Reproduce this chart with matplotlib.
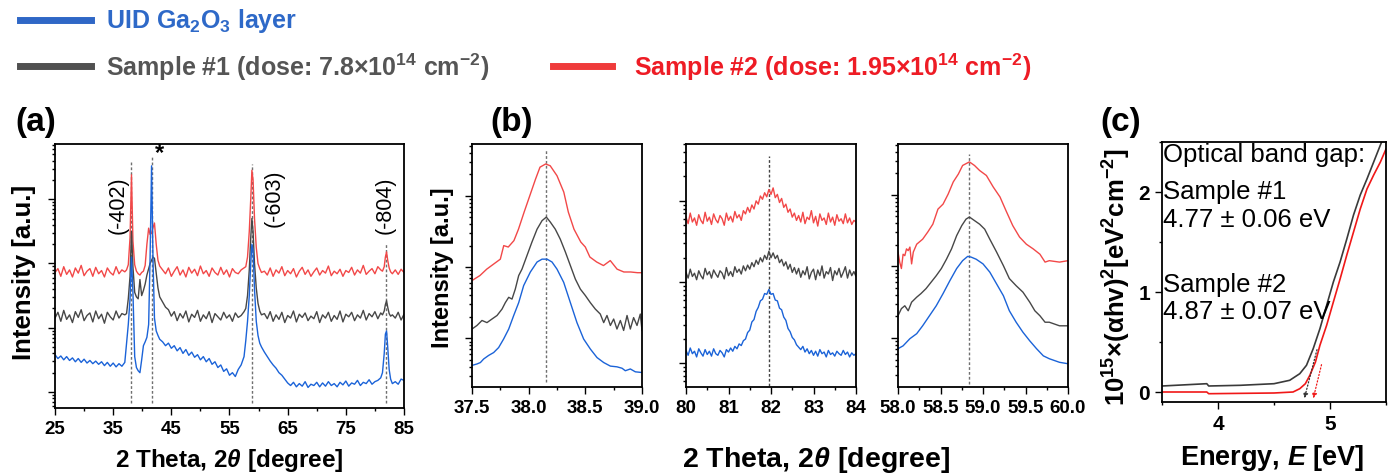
import numpy as np
import matplotlib.pyplot as plt
from matplotlib.ticker import LogLocator, NullFormatter, MultipleLocator
from matplotlib.lines import Line2D

plt.rcParams.update({
    'font.family': ['Liberation Sans', 'DejaVu Sans'],
    'mathtext.fontset': 'custom',
    'mathtext.rm': 'Liberation Sans',
    'mathtext.bf': 'Liberation Sans:bold',
    'mathtext.it': 'Liberation Sans:italic',
    'mathtext.bfit': 'Liberation Sans:italic:bold',
    'mathtext.default': 'bf',
})

RED, GRAY, BLUE = '#f24848', '#474747', '#1b63d8'
DOT = '#707070'

# ---------------- (a) wide scan, log10 intensity ----------------
tt_a = np.concatenate([
    np.arange(25, 37.01, 0.5),
    [37.3, 37.6, 37.9, 38.15, 38.4, 38.7, 39.0, 39.3, 39.6, 39.9, 40.2,
     40.5, 40.8, 41.1, 41.35, 41.6, 41.85, 42.1, 42.4, 42.7, 43.0],
    np.arange(43.5, 57.51, 0.5),
    [57.8, 58.1, 58.4, 58.65, 58.85, 59.05, 59.3, 59.6, 59.9, 60.2, 60.5],
    np.arange(61, 81.01, 0.5),
    [81.3, 81.6, 81.8, 82.0, 82.2, 82.45, 82.7, 83.0],
    [83.5, 84.0, 84.5, 85.0],
])

red_a = [
    2.86, 2.92, 2.80, 2.95, 2.83, 2.90, 2.79, 2.93, 2.85, 2.97, 2.81, 2.88, 2.92,
    2.80, 2.94, 2.84, 2.89, 2.79, 2.93, 2.86, 2.82, 2.95, 2.84, 2.90, 2.87,
    2.90, 2.98, 3.40, 4.38, 3.35, 2.98, 2.88, 2.84, 2.82, 2.86, 2.88, 2.97, 3.30,
    3.55, 3.45, 3.47, 3.56, 3.63, 3.30, 3.05, 2.96,
    2.90, 2.84, 2.93, 2.80, 2.88, 2.95, 2.82, 2.90, 2.79, 2.94, 2.85, 2.91, 2.81,
    2.96, 2.84, 2.89, 2.80, 2.93, 2.86, 2.82, 2.94, 2.83, 2.90, 2.79, 2.92, 2.86,
    2.84, 2.90, 2.93,
    2.95, 3.10, 3.50, 4.00, 4.45, 4.30, 3.70, 3.25, 3.00, 2.92, 2.86,
    2.88, 2.82, 2.93, 2.80, 2.90, 2.85, 2.95, 2.81, 2.89, 2.84,
    2.92, 2.79, 2.88, 2.94, 2.83, 2.90, 2.80, 2.87, 2.93, 2.82,
    2.89, 2.85, 2.96, 2.81, 2.88, 2.84, 2.91, 2.80, 2.89, 2.86,
    2.94, 2.82, 2.90, 2.85, 2.97, 2.83, 2.88, 2.92, 2.84, 2.95, 2.90,
    2.88, 2.95, 3.10, 3.18, 3.05, 2.93, 2.87, 2.84,
    2.90, 2.83, 2.91, 2.86,
]
gray_a = [
    2.15, 2.24, 2.10, 2.27, 2.13, 2.20, 2.08, 2.25, 2.16, 2.28, 2.11, 2.19, 2.23,
    2.09, 2.26, 2.14, 2.21, 2.07, 2.24, 2.17, 2.12, 2.26, 2.15, 2.22, 2.20,
    2.22, 2.45, 2.80, 3.50, 2.95, 2.55, 2.48, 2.45, 2.75, 2.50, 2.58, 2.68, 2.82,
    2.92, 3.00, 3.05, 3.10, 3.08, 2.85, 2.62, 2.48,
    2.40, 2.32, 2.28, 2.18, 2.25, 2.11, 2.22, 2.15, 2.26, 2.09, 2.21, 2.16, 2.27,
    2.10, 2.20, 2.14, 2.25, 2.08, 2.22, 2.17, 2.12, 2.24, 2.15, 2.20, 2.10, 2.23,
    2.16, 2.19, 2.25,
    2.30, 2.50, 2.90, 3.40, 3.70, 3.50, 3.00, 2.62, 2.38, 2.26, 2.20,
    2.22, 2.14, 2.25, 2.10, 2.20, 2.13, 2.24, 2.08, 2.19, 2.15,
    2.26, 2.09, 2.21, 2.16, 2.23, 2.11, 2.18, 2.14, 2.25, 2.08,
    2.20, 2.15, 2.24, 2.10, 2.19, 2.13, 2.26, 2.09, 2.21, 2.17,
    2.24, 2.11, 2.20, 2.15, 2.27, 2.12, 2.22, 2.17, 2.25, 2.14, 2.23,
    2.20, 2.26, 2.36, 2.42, 2.32, 2.22, 2.18, 2.20,
    2.15, 2.24, 2.12, 2.21,
]
blue_a = [
    1.58, 1.52, 1.56, 1.50, 1.55, 1.49, 1.53, 1.47, 1.52, 1.46, 1.51, 1.45, 1.49,
    1.44, 1.48, 1.43, 1.47, 1.41, 1.46, 1.40, 1.45, 1.39, 1.44, 1.40, 1.46,
    1.75, 2.05, 2.45, 3.10, 2.55, 1.55, 1.38, 1.33, 1.30, 1.50, 1.72, 1.78, 1.85,
    2.05, 3.10, 4.52, 3.05, 2.15, 1.95, 1.88, 1.82,
    1.78, 1.72, 1.76, 1.68, 1.72, 1.64, 1.69, 1.60, 1.66, 1.57, 1.62, 1.54, 1.58,
    1.50, 1.55, 1.47, 1.52, 1.43, 1.47, 1.38, 1.42, 1.32, 1.36, 1.26, 1.30, 1.24,
    1.35, 1.42, 1.55,
    1.80, 2.10, 2.50, 3.00, 3.30, 3.20, 2.60, 2.10, 1.88, 1.76, 1.70,
    1.62, 1.55, 1.48, 1.42, 1.37, 1.30, 1.26, 1.20, 1.14, 1.10,
    1.15, 1.08, 1.13, 1.09, 1.16, 1.07, 1.12, 1.10, 1.15, 1.08,
    1.14, 1.09, 1.16, 1.10, 1.13, 1.08, 1.15, 1.11, 1.17, 1.09,
    1.14, 1.12, 1.18, 1.10, 1.15, 1.13, 1.19, 1.12, 1.16, 1.18, 1.22,
    1.30, 1.60, 1.90, 1.95, 1.70, 1.35, 1.20, 1.13,
    1.16, 1.12, 1.20, 1.18,
]
peaks_a = [38.15, 41.6, 58.85, 81.95]
peak_tops_a = [4.59, 4.67, 4.55, 3.30]
peak_names = ['(-402)', '(-603)', '(-804)']
peak_label_pos = [(35.9, 3.92), (62.7, 4.03), (81.7, 3.92)]

# ---------------- (b) zoomed peaks ----------------
b1_red_x = [37.50, 37.57, 37.63, 37.69, 37.75, 37.78, 37.82, 37.87, 37.91, 37.96,
            38.01, 38.06, 38.10, 38.15, 38.19, 38.25, 38.31, 38.35, 38.40, 38.46,
            38.50, 38.54, 38.60, 38.66, 38.72, 38.78, 38.84, 38.90, 38.96, 39.00]
b1_red = [2.81, 2.88, 2.97, 3.04, 3.11, 3.30, 3.28, 3.37, 3.53, 3.77,
          4.00, 4.23, 4.40, 4.445, 4.42, 4.28, 4.05, 3.77, 3.53, 3.35,
          3.28, 3.14, 3.07, 3.02, 3.09, 2.97, 2.93, 2.93, 2.92, 2.92]
b1_gray_x = [37.500, 37.544, 37.588, 37.632, 37.676, 37.721, 37.765, 37.794, 37.824, 37.853,
             37.882, 37.912, 37.941, 37.985, 38.029, 38.074, 38.118, 38.156, 38.191, 38.235,
             38.279, 38.324, 38.368, 38.412, 38.456, 38.500, 38.544, 38.588, 38.632, 38.662,
             38.691, 38.721, 38.750, 38.779, 38.809, 38.838, 38.868, 38.897, 38.926, 38.956,
             38.985, 39.000]
b1_gray = [2.13, 2.18, 2.25, 2.22, 2.27, 2.32, 2.41, 2.50, 2.575, 2.55,
           2.69, 2.88, 2.97, 3.16, 3.35, 3.53, 3.65, 3.70, 3.63, 3.53,
           3.39, 3.21, 3.02, 2.83, 2.69, 2.60, 2.50, 2.41, 2.34, 2.22,
           2.32, 2.18, 2.27, 2.13, 2.25, 2.11, 2.32, 2.13, 2.29, 2.18,
           2.34, 2.11]
b1_blue_x = [37.500, 37.544, 37.574, 37.603, 37.647, 37.691, 37.735, 37.779, 37.824, 37.868,
             37.912, 37.956, 38.015, 38.074, 38.118, 38.162, 38.206, 38.250, 38.309, 38.368,
             38.426, 38.485, 38.544, 38.603, 38.662, 38.721, 38.779, 38.824, 38.853, 38.897,
             38.941, 39.000]
b1_blue = [1.62, 1.64, 1.66, 1.71, 1.76, 1.80, 1.87, 1.99, 2.13, 2.32,
           2.50, 2.74, 2.93, 3.07, 3.11, 3.11, 3.07, 2.97, 2.785, 2.50,
           2.22, 1.99, 1.85, 1.73, 1.66, 1.61, 1.60, 1.58, 1.545, 1.57,
           1.53, 1.52]

b2_x = np.round(np.arange(80, 84.001, 0.05), 2)
b2_red = [
    2.80, 2.72, 2.85, 2.74, 2.79, 2.70, 2.83, 2.76, 2.72, 2.86, 2.75, 2.80, 2.71, 2.84,
    2.77, 2.73, 2.82, 2.78, 2.70, 2.85, 2.76, 2.81, 2.74, 2.87, 2.79, 2.83, 2.76, 2.88,
    2.84, 2.92, 2.86, 2.95, 2.90, 3.00, 2.96, 3.06, 3.02, 3.10, 3.05, 3.14, 3.08,
    3.16, 3.04, 3.08, 2.98, 3.03, 2.92, 2.96, 2.86, 2.90, 2.80, 2.85, 2.76,
    2.82, 2.74, 2.86, 2.72, 2.80, 2.77, 2.88, 2.73, 2.81, 2.69, 2.84, 2.76, 2.79, 2.71,
    2.85, 2.74, 2.80, 2.70, 2.83, 2.75, 2.78, 2.72, 2.84, 2.73, 2.79, 2.71, 2.76, 2.74,
]
b2_gray = [
    2.12, 2.05, 2.16, 2.07, 2.11, 2.03, 2.14, 2.08, 2.04, 2.17, 2.09, 2.13, 2.05, 2.15,
    2.10, 2.06, 2.14, 2.11, 2.04, 2.18, 2.08, 2.13, 2.07, 2.19, 2.12, 2.16, 2.10, 2.20,
    2.14, 2.21, 2.16, 2.24, 2.19, 2.27, 2.22, 2.30, 2.25, 2.33, 2.28, 2.38, 2.30,
    2.36, 2.29, 2.33, 2.24, 2.28, 2.20, 2.25, 2.16, 2.22, 2.12, 2.18, 2.10,
    2.17, 2.06, 2.14, 2.09, 2.19, 2.04, 2.12, 2.16, 2.03, 2.15, 2.08, 2.20, 2.05, 2.13,
    2.10, 2.18, 2.02, 2.14, 2.09, 2.17, 2.06, 2.12, 2.19, 2.05, 2.15, 2.08, 2.13, 2.07,
]
b2_blue = [
    1.16, 1.10, 1.19, 1.12, 1.15, 1.08, 1.18, 1.13, 1.09, 1.17, 1.11, 1.15, 1.09, 1.18,
    1.12, 1.10, 1.16, 1.13, 1.08, 1.17, 1.14, 1.19, 1.15, 1.21, 1.18, 1.24, 1.22, 1.28,
    1.30, 1.38, 1.41, 1.51, 1.54, 1.64, 1.69, 1.77, 1.79, 1.86, 1.85, 1.91, 1.85,
    1.86, 1.78, 1.77, 1.68, 1.66, 1.57, 1.53, 1.43, 1.39, 1.32, 1.29, 1.23,
    1.20, 1.17, 1.21, 1.14, 1.18, 1.12, 1.16, 1.10, 1.15, 1.09, 1.17, 1.12, 1.14, 1.08,
    1.16, 1.11, 1.13, 1.09, 1.15, 1.12, 1.10, 1.16, 1.11, 1.14, 1.08, 1.13, 1.10, 1.12,
]

b3_red_x = [58.00, 58.02, 58.04, 58.06, 58.08, 58.10, 58.12, 58.14, 58.16, 58.18,
            58.22, 58.25, 58.29, 58.35, 58.41, 58.47, 58.53, 58.59, 58.65, 58.71,
            58.76, 58.84, 58.90, 58.96, 59.04, 59.12, 59.20, 59.27, 59.35, 59.43,
            59.51, 59.59, 59.67, 59.73, 59.78, 59.90, 60.00]
b3_red = [3.20, 3.06, 2.97, 3.17, 3.15, 3.245, 3.22, 3.27, 3.035, 3.20,
          3.31, 3.34, 3.38, 3.48, 3.59, 3.80, 3.87, 4.01, 4.18, 4.29,
          4.41, 4.46, 4.41, 4.34, 4.27, 4.11, 3.97, 3.78, 3.57, 3.41,
          3.31, 3.245, 3.17, 3.06, 3.08, 3.06, 3.08]
b3_gray_x = [58.00, 58.04, 58.08, 58.12, 58.16, 58.22, 58.27, 58.33, 58.39, 58.45,
             58.51, 58.57, 58.63, 58.69, 58.75, 58.80, 58.84, 58.90, 58.96, 59.02,
             59.08, 59.16, 59.24, 59.31, 59.39, 59.47, 59.55, 59.61, 59.67, 59.73,
             59.78, 59.90, 60.00]
b3_gray = [2.31, 2.41, 2.45, 2.38, 2.50, 2.57, 2.62, 2.69, 2.78, 2.87,
           2.97, 3.10, 3.245, 3.43, 3.57, 3.66, 3.69, 3.64, 3.59, 3.52,
           3.38, 3.20, 3.01, 2.83, 2.73, 2.64, 2.50, 2.38, 2.31, 2.22,
           2.22, 2.17, 2.17]
b3_blue_x = [58.00, 58.06, 58.14, 58.22, 58.29, 58.37, 58.45, 58.53, 58.61, 58.69,
             58.76, 58.82, 58.86, 58.92, 59.00, 59.08, 59.16, 59.24, 59.31, 59.39,
             59.47, 59.55, 59.63, 59.71, 59.78, 59.90, 60.00]
b3_blue = [1.85, 1.89, 1.99, 2.06, 2.17, 2.31, 2.45, 2.62, 2.80, 2.97,
           3.08, 3.14, 3.13, 3.10, 3.035, 2.92, 2.755, 2.59, 2.38, 2.22,
           2.08, 1.96, 1.85, 1.75, 1.71, 1.66, 1.64]

# ---------------- (c) Tauc plot ----------------
c_gray_x = [3.50, 3.90, 3.917, 4.20, 4.50, 4.64, 4.73, 4.79, 4.85, 4.91,
            4.97, 5.03, 5.09, 5.15, 5.21, 5.27, 5.33, 5.39, 5.45, 5.48]
c_gray = [0.06, 0.083, 0.06, 0.067, 0.083, 0.117, 0.183, 0.267, 0.433, 0.633,
          0.867, 1.10, 1.30, 1.53, 1.77, 1.97, 2.13, 2.30, 2.47, 2.55]
c_red_x = [3.50, 3.90, 3.917, 4.50, 4.67, 4.73, 4.78, 4.82, 4.87, 4.91,
           4.97, 5.03, 5.09, 5.15, 5.21, 5.27, 5.33, 5.39, 5.45, 5.50]
c_red = [0.0, 0.0, -0.017, -0.01, 0.0, 0.033, 0.083, 0.167, 0.30, 0.467,
         0.667, 0.90, 1.13, 1.37, 1.60, 1.83, 2.03, 2.17, 2.30, 2.43]

W, H = 1397, 477
fig = plt.figure(figsize=(W / 100, H / 100), dpi=100)


def box(l, t, r, b):
    return fig.add_axes([l / W, 1 - b / H, (r - l) / W, (b - t) / H])


def ftext(x, y, s, **kw):
    fig.text(x / W, 1 - y / H, s, **kw)


def style(ax, tsize=11):
    for s in ax.spines.values():
        s.set_linewidth(1.3)
    ax.tick_params(which='both', direction='out', width=1.0, labelsize=tsize)
    ax.tick_params(which='major', length=5)
    ax.tick_params(which='minor', length=2.5)
    for lab in ax.get_xticklabels() + ax.get_yticklabels():
        lab.set_fontweight('bold')


def logy(ax, lo, hi):
    ax.set_yscale('log')
    ax.set_ylim(10 ** lo, 10 ** hi)
    ax.yaxis.set_major_locator(LogLocator(base=10))
    ax.yaxis.set_minor_locator(LogLocator(base=10, subs=np.arange(2, 10), numticks=20))
    ax.yaxis.set_major_formatter(NullFormatter())
    ax.yaxis.set_minor_formatter(NullFormatter())


def p(v):
    return 10 ** np.asarray(v)


# (a)
ax = box(55, 145, 404, 409)
for xp, top in zip(peaks_a, peak_tops_a):
    ax.plot([xp, xp], [10 ** 0.83, 10 ** top], ls=(0, (2, 1.5)), color=DOT, lw=1.0, zorder=1)
ax.plot(tt_a, p(red_a), color=RED, lw=1.0)
ax.plot(tt_a, p(gray_a), color=GRAY, lw=1.0)
ax.plot(tt_a, p(blue_a), color=BLUE, lw=1.0)
for name, (xl, yl) in zip(peak_names, peak_label_pos):
    ax.text(xl, 10 ** yl, name, rotation=90, ha='center', va='center', fontsize=15.5)
ax.text(42.9, 10 ** 4.72, '*', ha='center', va='center', fontsize=17, fontweight='bold')
ax.set_xlim(25, 85)
logy(ax, 0.75, 4.86)
ax.set_xticks([25, 35, 45, 55, 65, 75, 85])
ax.xaxis.set_minor_locator(MultipleLocator(5))
style(ax, 13.5)

# (b)
b_axes = [box(472, 145, 642, 388), box(686, 145, 856, 388), box(898, 145, 1068, 388)]
ax = b_axes[0]
ax.plot([38.15, 38.15], [10 ** 1.39, 10 ** 4.65], ls=(0, (2, 1.5)), color=DOT, lw=1.0)
ax.plot(b1_red_x, p(b1_red), color=RED, lw=1.0)
ax.plot(b1_gray_x, p(b1_gray), color=GRAY, lw=1.0)
ax.plot(b1_blue_x, p(b1_blue), color=BLUE, lw=1.0)
ax.set_xlim(37.5, 39.0)
logy(ax, 1.317, 4.725)
ax.set_xticks([37.5, 38.0, 38.5, 39.0])
ax.set_xticklabels(['37.5', '38.0', '38.5', '39.0'])
ax.xaxis.set_minor_locator(MultipleLocator(0.25))
style(ax, 13.5)

ax = b_axes[1]
ax.plot([81.95, 81.95], [10 ** 0.72, 10 ** 3.55], ls=(0, (2, 1.5)), color='#444444', lw=1.0)
ax.plot(b2_x, p(b2_red), color=RED, lw=1.0)
ax.plot(b2_x, p(b2_gray), color=GRAY, lw=1.0)
ax.plot(b2_x, p(b2_blue), color=BLUE, lw=1.0)
ax.set_xlim(80, 84)
logy(ax, 0.71, 3.70)
ax.set_xticks([80, 81, 82, 83, 84])
ax.xaxis.set_minor_locator(MultipleLocator(0.5))
style(ax, 13.5)

ax = b_axes[2]
ax.plot([58.84, 58.84], [10 ** 1.36, 10 ** 4.57], ls=(0, (2, 1.5)), color=DOT, lw=1.0)
ax.plot(b3_red_x, p(b3_red), color=RED, lw=1.0)
ax.plot(b3_gray_x, p(b3_gray), color=GRAY, lw=1.0)
ax.plot(b3_blue_x, p(b3_blue), color=BLUE, lw=1.0)
ax.set_xlim(58, 60)
logy(ax, 1.315, 4.71)
ax.set_xticks([58.0, 58.5, 59.0, 59.5, 60.0])
ax.set_xticklabels(['58.0', '58.5', '59.0', '59.5', '60.0'])
ax.xaxis.set_minor_locator(MultipleLocator(0.25))
style(ax, 13.5)

# (c)
ax = box(1162, 143, 1386, 403)
ax.plot(c_gray_x, c_gray, color='#3a3a3a', lw=1.2)
ax.plot(c_red_x, c_red, color='#f01818', lw=1.2)
ax.annotate('', xy=(4.765, -0.09), xytext=(4.89, 0.45),
            arrowprops=dict(arrowstyle='-|>', ls=':', color='#333333', lw=0.9, mutation_scale=7))
ax.annotate('', xy=(4.845, -0.09), xytext=(4.93, 0.30),
            arrowprops=dict(arrowstyle='-|>', ls=':', color='#f01818', lw=0.9, mutation_scale=7))
ax.set_xlim(3.5, 5.5)
ax.set_ylim(-0.1, 2.5)
ax.set_xticks([4, 5])
ax.set_yticks([0, 1, 2])
ax.xaxis.set_minor_locator(MultipleLocator(0.5))
ax.yaxis.set_minor_locator(MultipleLocator(0.5))
style(ax, 15)
for txt, yy in [('Optical band gap:', 2.38), ('Sample #1', 2.01), ('4.77 ± 0.06 eV', 1.73),
                ('Sample #2', 1.08), ('4.87 ± 0.07 eV', 0.81)]:
    ax.text(3.51, yy, txt, fontsize=18.5, va='center', ha='left')

# labels
ftext(15, 122, '(a)', fontsize=24, fontweight='bold', va='center')
ftext(490, 122, '(b)', fontsize=24, fontweight='bold', va='center')
ftext(1100, 122, '(c)', fontsize=24, fontweight='bold', va='center')
ftext(24, 272, 'Intensity [a.u.]', rotation=90, fontsize=18.5, fontweight='bold', ha='center', va='center')
ftext(443, 268, 'Intensity [a.u.]', rotation=90, fontsize=17, fontweight='bold', ha='center', va='center')
ftext(229, 461, r'2 Theta, 2$\mathbfit{\theta}$ [degree]', fontsize=17.5, fontweight='bold', ha='center', va='center')
ftext(816, 460, r'2 Theta, 2$\mathbfit{\theta}$ [degree]', fontsize=20.5, fontweight='bold', ha='center', va='center')
ftext(1272, 458, r'Energy, $\mathbfit{E}$ [eV]', fontsize=19.5, fontweight='bold', ha='center', va='center')
ftext(1117, 277, r'10$^{15}$×(αhv)$^{2}$[eV$^{2}$cm$^{-2}$]', rotation=90, fontsize=18.5,
      fontweight='bold', ha='center', va='center')

# legend rows
for (x0, x1, y, c) in [(20, 91, 21, '#2f67c6'), (20, 91, 67, '#505050'), (553, 612, 67, '#ef3b3b')]:
    fig.add_artist(Line2D([x0 / W, x1 / W], [1 - y / H, 1 - y / H], color=c, lw=5))
ftext(106, 21, r'UID Ga$_{2}$O$_{3}$ layer', fontsize=18, fontweight='bold', color='#2e69c8', va='center')
ftext(106, 67, r'Sample #1 (dose: 7.8×10$^{14}$ cm$^{-2}$)', fontsize=18, fontweight='bold',
      color='#555555', va='center')
ftext(634, 67, r'Sample #2 (dose: 1.95×10$^{14}$ cm$^{-2}$)', fontsize=18, fontweight='bold',
      color='#ee1c25', va='center')

fig.savefig('out.png', dpi=100)
